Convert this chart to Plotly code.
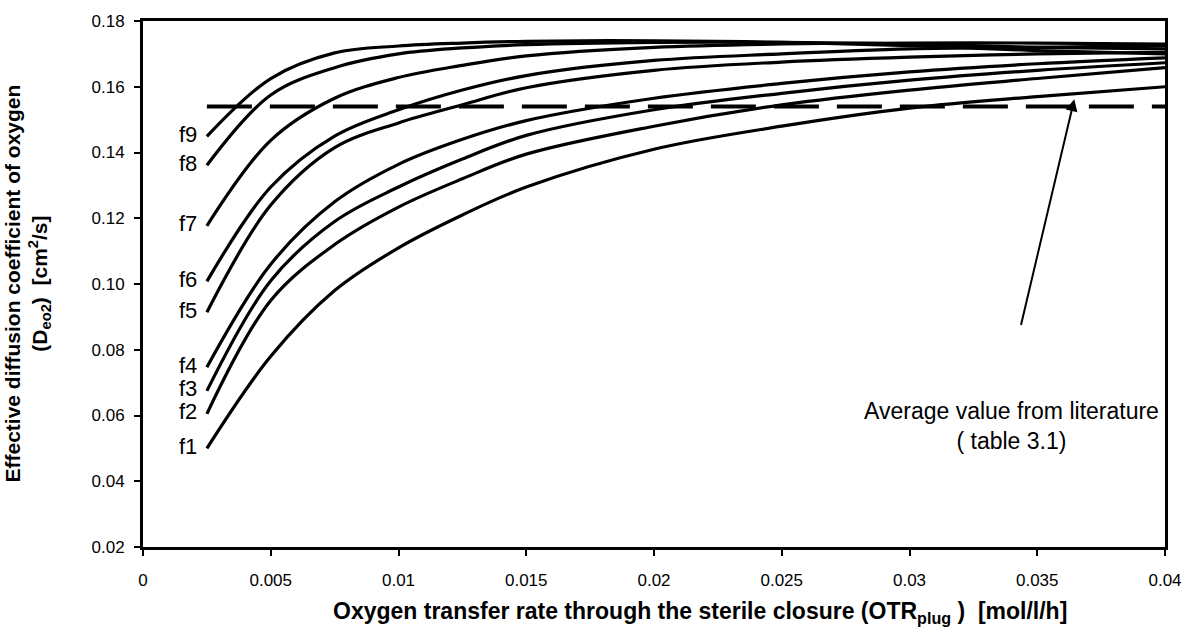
import plotly.graph_objects as go

otr = [0.0025, 0.005, 0.0075, 0.01, 0.0125, 0.015, 0.02, 0.025, 0.03, 0.035, 0.04]
f1 = [0.0500, 0.0780, 0.0980, 0.1110, 0.1210, 0.1295, 0.1410, 0.1480, 0.1535, 0.1570, 0.1600]
f2 = [0.0605, 0.0950, 0.1120, 0.1234, 0.1320, 0.1395, 0.1480, 0.1545, 0.1590, 0.1625, 0.1658]
f3 = [0.0675, 0.1010, 0.1190, 0.1295, 0.1380, 0.1452, 0.1530, 0.1580, 0.1620, 0.1650, 0.1673]
f4 = [0.0747, 0.1060, 0.1250, 0.1364, 0.1440, 0.1497, 0.1565, 0.1610, 0.1645, 0.1670, 0.1688]
f5 = [0.0914, 0.1240, 0.1415, 0.1490, 0.1545, 0.1597, 0.1650, 0.1675, 0.1690, 0.1700, 0.1705]
f6 = [0.1008, 0.1295, 0.1450, 0.1530, 0.1590, 0.1634, 0.1680, 0.1700, 0.1715, 0.1720, 0.1725]
f7 = [0.1177, 0.1437, 0.1565, 0.1628, 0.1665, 0.1694, 0.1720, 0.1730, 0.1733, 0.1733, 0.1730]
f8 = [0.1361, 0.1575, 0.1658, 0.1700, 0.1718, 0.1728, 0.1735, 0.1735, 0.1730, 0.1720, 0.1715]
f9 = [0.1449, 0.1625, 0.1703, 0.1724, 0.1733, 0.1738, 0.1740, 0.1735, 0.1725, 0.1710, 0.1700]
series = {"f1": f1, "f2": f2, "f3": f3, "f4": f4, "f5": f5,
          "f6": f6, "f7": f7, "f8": f8, "f9": f9}

literature_avg = 0.154
x_ticks = [0, 0.005, 0.01, 0.015, 0.02, 0.025, 0.03, 0.035, 0.04]
x_tick_text = ["0", "0.005", "0.01", "0.015", "0.02", "0.025", "0.03", "0.035", "0.04"]
y_ticks = [0.02, 0.04, 0.06, 0.08, 0.10, 0.12, 0.14, 0.16, 0.18]

FONT = "Liberation Sans, Arial, sans-serif"

fig = go.Figure()
for name, vals in series.items():
    fig.add_trace(go.Scatter(x=otr, y=vals, mode="lines", name=name,
                             line=dict(color="black", width=3.2, shape="spline", smoothing=1.0),
                             showlegend=False))

fig.add_trace(go.Scatter(x=[otr[0], otr[-1]], y=[literature_avg, literature_avg], mode="lines",
                         line=dict(color="black", width=4, dash="45px,18px"), showlegend=False))

annotations = []
for name, vals in series.items():
    annotations.append(dict(x=otr[0], y=vals[0], xref="x", yref="y", text=name, showarrow=False,
                            xanchor="right", yanchor="middle", xshift=-8, yshift=2,
                            font=dict(family=FONT, size=22, color="black")))

annotations.append(dict(x=0.0340, y=0.0569, xref="x", yref="y",
                        text="Average value from literature<br>( table 3.1)", showarrow=False,
                        xanchor="center", yanchor="middle", align="center",
                        font=dict(family=FONT, size=23, color="black")))
annotations.append(dict(x=0.03645, y=0.1562, xref="x", yref="y", ax=0.03435, ay=0.0871,
                        axref="x", ayref="y", text="", showarrow=True, arrowhead=2,
                        arrowsize=1.2, arrowwidth=2, arrowcolor="black"))

annotations.append(dict(x=-0.113, y=0.5, xref="paper", yref="paper",
                        text="<b>Effective diffusion coefficient of oxygen<br>(D<sub>eo2</sub>) &nbsp;[cm<sup>2</sup>/s]</b>",
                        textangle=-90, showarrow=False, xanchor="center", yanchor="middle",
                        font=dict(family=FONT, size=21, color="black")))
annotations.append(dict(x=0.545, y=-0.125, xref="paper", yref="paper",
                        text="<b>Oxygen transfer rate through the sterile closure (OTR<sub>plug</sub> ) &nbsp;[mol/l/h]</b>",
                        showarrow=False, xanchor="center", yanchor="middle",
                        font=dict(family=FONT, size=23, color="black")))

fig.update_layout(
    width=1194, height=637,
    margin=dict(l=143, r=25, t=18, b=90),
    paper_bgcolor="white", plot_bgcolor="white",
    annotations=annotations,
    font=dict(family=FONT, color="black"),
)
fig.update_xaxes(range=[0, 0.04], tickvals=x_ticks, ticktext=x_tick_text,
                 showgrid=False, zeroline=False, showline=True, linecolor="black", linewidth=3,
                 mirror=True, ticks="outside", ticklen=6, tickwidth=1.5, tickcolor="black",
                 ticklabelstandoff=10, tickfont=dict(family=FONT, size=17, color="black"))
fig.update_yaxes(range=[0.02, 0.18], tickvals=y_ticks, tickformat=".2f",
                 showgrid=False, zeroline=False, showline=True, linecolor="black", linewidth=3,
                 mirror=True, ticks="outside", ticklen=6, tickwidth=1.5, tickcolor="black",
                 ticklabelstandoff=6, tickfont=dict(family=FONT, size=17, color="black"))

fig.write_html("out.html")
